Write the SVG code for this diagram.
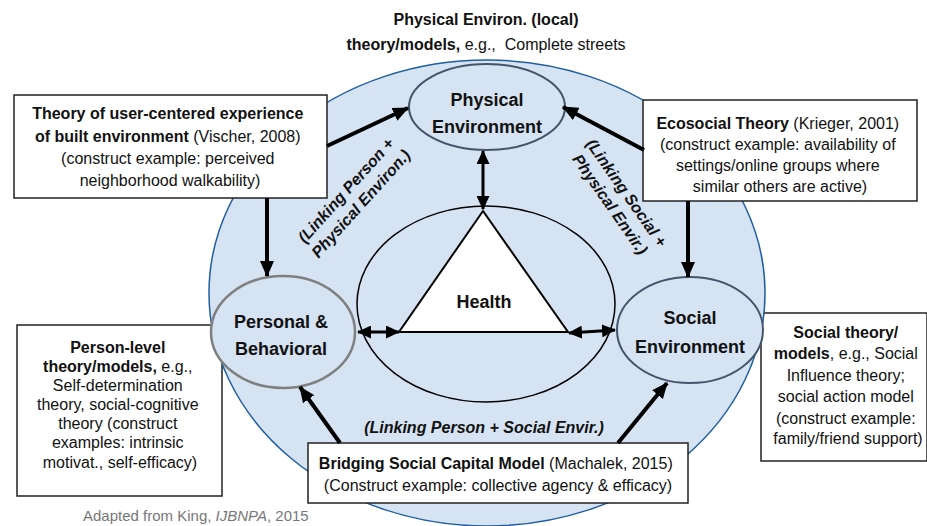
<svg xmlns="http://www.w3.org/2000/svg" width="927" height="526" viewBox="0 0 927 526">
<defs>
<style>
text{font-family:"Liberation Sans",Arial,sans-serif;fill:#111}
.t{font-size:16px}
.b{font-weight:bold}
.lbl{font-size:18px;font-weight:bold;text-anchor:middle}
.lk{font-size:16px;font-weight:bold;font-style:italic;text-anchor:middle}
.box{fill:#fff;stroke:#222;stroke-width:1.5}
.arr{stroke:#000;stroke-width:4;fill:none;marker-end:url(#ah)}
.dbl{stroke:#000;stroke-width:3;fill:none;marker-end:url(#dh);marker-start:url(#dh)}
</style>
<marker id="ah" markerUnits="userSpaceOnUse" viewBox="0 0 16 14" markerWidth="16" markerHeight="14" refX="15" refY="7" orient="auto">
<path d="M0,0 L16,7 L0,14 z" fill="#000"/>
</marker>
<marker id="dh" markerUnits="userSpaceOnUse" viewBox="0 0 14 13" markerWidth="14" markerHeight="13" refX="13" refY="6.5" orient="auto-start-reverse">
<path d="M0,0 L14,6.5 L0,13 z" fill="#000"/>
</marker>
</defs>
<rect width="927" height="526" fill="#fff"/>

<g id="person-theory">
<rect class="box" x="17" y="325" width="205" height="171"/>
<text class="t" text-anchor="middle">
<tspan x="120" y="353" class="b">Person-level</tspan>
<tspan x="120" y="372"><tspan class="b">theory/models,</tspan> e.g.,</tspan>
<tspan x="120" y="391">Self-determination</tspan>
<tspan x="120" y="410">theory, social-cognitive</tspan>
<tspan x="120" y="429">theory (construct</tspan>
<tspan x="120" y="448">examples: intrinsic</tspan>
<tspan x="120" y="468">motivat., self-efficacy)</tspan>
</text>
</g>

<g id="social-theory">
<rect class="box" x="761" y="313" width="166" height="148"/>
<text class="t" text-anchor="middle">
<tspan x="848" y="338" class="b">Social theory/</tspan>
<tspan x="848" y="359"><tspan class="b">models</tspan>, e.g., Social</tspan>
<tspan x="848" y="381">Influence theory;</tspan>
<tspan x="848" y="402">social action model</tspan>
<tspan x="848" y="424">(construct example:</tspan>
<tspan x="848" y="444">family/friend support)</tspan>
</text>
</g>

<g id="context">
<ellipse cx="487" cy="293" rx="278" ry="233" fill="#d6e3f3" stroke="#1f5fa0" stroke-width="1.5"/>
</g>

<g id="health">
<ellipse cx="486" cy="304" rx="129" ry="98" fill="none" stroke="#000" stroke-width="1.5"/>
<polygon points="483,211 399,332 568,332" fill="#fff" stroke="#000" stroke-width="2"/>
<text class="b" x="484" y="308" font-size="18" text-anchor="middle">Health</text>
</g>

<g id="physical">
<ellipse cx="487" cy="107" rx="78" ry="43" fill="#d6e3f3" stroke="#44546a" stroke-width="2"/>
<text class="lbl"><tspan x="487" y="106">Physical</tspan><tspan x="487" y="133">Environment</tspan></text>
</g>

<g id="personal">
<ellipse cx="283" cy="332" rx="72" ry="56" fill="#d6e3f3" stroke="#7f7f7f" stroke-width="2.5"/>
<text class="lbl"><tspan x="281" y="328">Personal &amp;</tspan><tspan x="281" y="355">Behavioral</tspan></text>
</g>

<g id="social">
<ellipse cx="690" cy="330" rx="73" ry="53" fill="#d6e3f3" stroke="#44546a" stroke-width="2"/>
<text class="lbl"><tspan x="690" y="324">Social</tspan><tspan x="690" y="353">Environment</tspan></text>
</g>

<g id="title">
<text class="t" text-anchor="middle" xml:space="preserve"><tspan x="486" y="25" class="b">Physical Environ. (local)</tspan><tspan x="486" y="50"><tspan class="b">theory/models,</tspan> e.g.,  Complete streets</tspan></text>
</g>

<g id="user-centered">
<rect class="box" x="14" y="95" width="313" height="103"/>
<text class="t" text-anchor="middle">
<tspan x="170" y="119" class="b">Theory of user-centered experience</tspan>
<tspan x="170" y="142"><tspan class="b">of built environment</tspan> (Vischer, 2008)</tspan>
<tspan x="170" y="164">(construct example: perceived</tspan>
<tspan x="170" y="186">neighborhood walkability)</tspan>
</text>
</g>

<g id="ecosocial">
<rect class="box" x="643" y="100" width="274" height="101"/>
<text class="t" text-anchor="middle">
<tspan x="780" y="129"><tspan class="b">Ecosocial Theory</tspan> (Krieger, 2001)</tspan>
<tspan x="780" y="150">(construct example: availability of</tspan>
<tspan x="780" y="171">settings/online groups where</tspan>
<tspan x="780" y="192">similar others are active)</tspan>
</text>
</g>

<g id="bridging">
<rect class="box" x="308" y="443" width="380" height="60"/>
<text class="t" text-anchor="middle">
<tspan x="498" y="469"><tspan class="b">Bridging Social Capital Model</tspan> (Machalek, 2015)</tspan>
<tspan x="498" y="491">(Construct example: collective agency &amp; efficacy)</tspan>
</text>
</g>

<g id="connectors">
<line class="arr" x1="327" y1="146" x2="408" y2="108"/>
<line class="arr" x1="644" y1="150" x2="563" y2="107"/>
<line class="arr" x1="267" y1="198" x2="267" y2="276"/>
<line class="arr" x1="688" y1="201" x2="688" y2="277"/>
<line class="arr" x1="340" y1="443" x2="300" y2="387"/>
<line class="arr" x1="618" y1="443" x2="667" y2="383"/>
<line class="dbl" x1="483" y1="151" x2="483" y2="209"/>
<line class="dbl" x1="358" y1="332" x2="399" y2="332"/>
<line class="dbl" x1="569" y1="333" x2="615" y2="330"/>
</g>

<g id="link-labels">
<text class="lk" transform="translate(350,194) rotate(-48)"><tspan x="0" y="0">(Linking Person +</tspan><tspan x="0" y="20">Physical Environ.)</tspan></text>
<text class="lk" transform="translate(622,196) rotate(55)"><tspan x="0" y="0">(Linking Social +</tspan><tspan x="0" y="20">Physical Envir.)</tspan></text>
<text class="lk" x="484" y="433">(Linking Person + Social Envir.)</text>
</g>

<text x="83" y="521" font-size="15" style="fill:#777">Adapted from King, <tspan font-style="italic">IJBNPA</tspan>, 2015</text>
</svg>
